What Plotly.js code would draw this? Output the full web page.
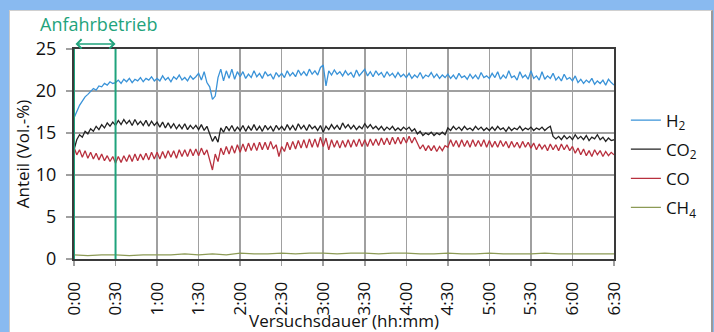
<!DOCTYPE html>
<html>
<head>
<meta charset="utf-8">
<script src="https://cdn.plot.ly/plotly-3.0.1.min.js"></script>
<style>
  html, body { margin: 0; padding: 0; background: #89baf0; width: 714px; height: 332px; overflow: hidden; }
  #panel { position: absolute; left: 9px; top: 10px; width: 701px; height: 322px; background: #ffffff; border-right: 2px solid #9a9a9a; border-top: 1px solid #d0d0d0; border-left: 1px solid #c8c8c8; }
  #chart { position: absolute; left: 0; top: 0; width: 714px; height: 332px; }
</style>
</head>
<body>
<div id="panel"></div>
<div id="chart"></div>
<script>
// Sampling step of the measured series (minutes)
const STEP_MIN = 2;
const STEP_CH4 = 10;

// Tick labels (hh:mm) every 30 minutes
const tickMinutes = [0, 30, 60, 90, 120, 150, 180, 210, 240, 270, 300, 330, 360, 390];
const tickLabels = ["0:00","0:30","1:00","1:30","2:00","2:30","3:00","3:30","4:00","4:30","5:00","5:30","6:00","6:30"];

const seriesNames = ["H<sub>2</sub>", "CO<sub>2</sub>", "CO", "CH<sub>4</sub>"];

// H2 (Vol.-%), every 2 min from 0:00 to 6:30
const h2 = [
  16.8, 17.6, 18.3, 18.8, 19.3, 19.6, 19.9, 20.3, 20.1, 20.6, 20.5, 20.9, 20.7, 21.1, 20.9,
  21.0, 21.3, 20.9, 21.4, 21.1, 21.5, 21.0, 21.4, 21.2, 21.6, 21.1, 21.5, 21.3, 21.7, 21.2,
  21.5, 21.2, 21.8, 21.3, 21.6, 21.1, 21.7, 21.4, 21.9, 21.3, 21.6, 21.2, 21.8, 21.4, 21.7,
  22.1, 21.3, 22.3, 21.0, 20.5, 19.0, 19.4, 21.6, 22.6, 21.2, 22.4, 21.5, 22.6, 21.4, 22.3,
  21.7, 22.3, 21.5, 22.0, 21.6, 22.4, 21.7, 22.1, 21.5, 22.3, 21.8, 22.0, 21.4, 22.2, 21.7,
  22.1, 21.6, 22.4, 21.8, 22.2, 21.7, 22.5, 21.9, 22.3, 21.8, 22.6, 22.0, 22.4, 21.9, 22.8,
  23.1, 20.6, 22.4, 21.9, 22.5, 22.0, 22.3, 21.8, 22.4, 21.9, 22.2, 21.6, 22.5, 21.8, 22.2,
  22.6, 21.8, 22.3, 21.7, 22.4, 21.9, 22.2, 21.6, 22.3, 21.8, 22.1, 21.6, 22.2, 21.7, 22.0,
  21.6, 22.1, 21.5, 21.9, 21.6, 22.2, 21.5, 21.9, 21.7, 22.2, 21.6, 22.0, 21.5, 21.9, 21.6,
  22.0, 21.5, 21.9, 21.4, 22.1, 21.6, 21.8, 21.4, 22.0, 21.5, 21.9, 21.4, 22.2, 21.6, 21.8,
  21.5, 22.1, 21.6, 22.3, 21.4, 21.9, 21.5, 22.4, 21.6, 21.8, 21.3, 22.3, 21.6, 21.9, 21.4,
  22.4, 21.5, 21.8, 21.3, 22.3, 21.4, 21.8, 21.5, 22.1, 21.3, 21.7, 21.2, 22.0, 21.4, 21.6,
  21.2, 21.8, 21.0, 21.4, 20.9, 21.3, 21.0, 21.5, 20.8, 21.2, 20.9, 21.3, 20.7, 21.4, 21.0, 20.7
];

// CO2 (Vol.-%)
const co2 = [
  13.0, 14.2, 14.8, 14.5, 15.2, 14.9, 15.5, 15.2, 15.8, 15.4, 16.0, 15.6, 16.2, 15.8, 16.3,
  15.9, 16.5, 16.0, 16.6, 16.1, 16.5, 15.9, 16.6, 16.0, 16.4, 15.9, 16.5, 15.8, 16.4, 15.9,
  16.3, 15.7, 16.3, 15.6, 16.2, 15.6, 16.1, 15.5, 16.0, 15.5, 16.1, 15.4, 15.9, 15.5, 15.9,
  15.4, 16.0, 15.3, 15.8, 15.0, 14.0, 14.6, 13.9, 15.6, 15.1, 15.8, 15.3, 15.9, 15.2, 15.7,
  15.3, 15.9, 15.2, 15.8, 15.3, 16.0, 15.3, 15.8, 15.2, 15.9, 15.4, 15.8, 15.2, 15.9, 15.4,
  15.8, 15.3, 16.0, 15.4, 15.9, 15.3, 16.1, 15.5, 15.9, 15.3, 16.0, 15.5, 15.8, 15.3, 15.9,
  15.1, 15.8, 15.4, 16.0, 15.5, 15.9, 15.4, 16.2, 15.6, 16.0, 15.5, 15.9, 15.4, 15.8, 15.5,
  16.1, 15.6, 16.0, 15.5, 15.8, 15.4, 15.8, 15.3, 15.7, 15.4, 15.8, 15.3, 15.6, 15.3, 15.7,
  15.4, 15.7, 15.2, 15.5, 14.9, 15.2, 14.7, 15.0, 14.8, 15.1, 14.7, 15.0, 14.8, 15.1, 14.8,
  15.6, 15.3, 15.8, 15.4, 15.7, 15.3, 15.8, 15.4, 15.6, 15.3, 15.8, 15.4, 15.7, 15.3, 15.6,
  15.3, 15.7, 15.3, 15.8, 15.4, 15.6, 15.2, 15.7, 15.3, 15.6, 15.4, 15.8, 15.3, 15.6, 15.4,
  15.7, 15.3, 15.6, 15.4, 15.7, 15.3, 15.6, 15.8, 14.6, 14.3, 14.6, 14.2, 14.7, 14.3, 14.6,
  14.2, 14.8, 14.3, 14.6, 14.2, 14.7, 14.1, 14.5, 14.3, 14.8, 14.2, 14.5, 14.0, 14.4, 14.1, 14.2
];

// CO (Vol.-%)
const co = [
  13.3, 12.4, 13.0, 12.1, 12.9, 12.0, 12.7, 11.9, 12.6, 11.8, 12.5, 11.7, 12.3, 11.6, 12.2,
  11.4, 12.2, 11.5, 12.3, 11.6, 12.4, 11.6, 12.5, 11.7, 12.5, 11.8, 12.6, 11.8, 12.7, 11.9,
  12.7, 11.9, 12.8, 12.0, 12.9, 12.1, 12.9, 12.0, 13.0, 12.2, 13.0, 12.2, 13.1, 12.3, 13.1,
  12.3, 13.2, 12.4, 13.0, 11.8, 10.6, 12.5, 11.6, 13.2, 12.4, 13.4, 12.5, 13.5, 12.6, 13.6,
  12.7, 13.7, 12.8, 13.8, 12.9, 13.8, 12.9, 13.9, 13.0, 13.9, 13.0, 14.0, 13.1, 13.6, 12.2,
  13.4, 12.8, 13.9, 13.0, 14.0, 13.1, 14.1, 13.2, 14.2, 13.2, 14.3, 13.3, 14.3, 13.3, 14.5,
  13.4, 14.4, 13.0, 14.2, 13.3, 14.1, 13.2, 14.1, 13.3, 14.2, 13.3, 14.2, 13.4, 14.3, 13.4,
  14.2, 13.4, 14.3, 13.5, 14.3, 13.5, 14.4, 13.6, 14.4, 13.6, 14.5, 13.7, 14.5, 13.7, 14.5,
  13.8, 14.6, 13.8, 14.5, 13.7, 13.1, 13.6, 12.9, 13.5, 12.9, 13.5, 12.8, 13.4, 12.9, 13.5,
  13.3, 14.2, 13.4, 14.1, 13.3, 14.2, 13.4, 14.1, 13.3, 14.2, 13.4, 14.1, 13.4, 14.2, 13.3,
  14.1, 13.3, 14.0, 13.3, 14.1, 13.4, 14.0, 13.2, 14.0, 13.3, 13.9, 13.2, 14.0, 13.3, 13.9,
  13.2, 13.8, 13.0, 13.7, 13.1, 13.6, 12.9, 13.7, 13.0, 13.6, 12.9, 13.7, 13.0, 13.6, 12.9,
  13.4, 12.6, 13.2, 12.4, 13.1, 12.3, 12.9, 12.2, 13.0, 12.4, 12.9, 12.2, 12.8, 12.3, 12.7, 12.4
];

// CH4 (Vol.-%), every 10 min
const ch4 = [
  0.5, 0.4, 0.5, 0.5, 0.4, 0.5, 0.5, 0.5, 0.6, 0.5, 0.6, 0.5, 0.7, 0.6, 0.6, 0.7, 0.6, 0.7, 0.7, 0.6,
  0.7, 0.7, 0.6, 0.7, 0.7, 0.6, 0.6, 0.7, 0.6, 0.6, 0.7, 0.6, 0.6, 0.6, 0.7, 0.6, 0.6, 0.6, 0.6, 0.6
];

// Start-up phase (minutes)
const startupPhase = [0, 30];
const startupLabel = "Anfahrbetrieb";

const xTitle = "Versuchsdauer (hh:mm)";
const yTitle = "Anteil (Vol.-%)";

const colors = ["#3a93d8", "#222222", "#b8303e", "#8c9a55"];
const green = "#1fa37c";

const tMain = h2.map((_, i) => i * STEP_MIN);
const tCh4 = ch4.map((_, i) => i * STEP_CH4);

const ys = [h2, co2, co, ch4];
const xs = [tMain, tMain, tMain, tCh4];

const traces = ys.map((y, k) => ({
  x: xs[k], y: y, type: "scatter", mode: "lines",
  name: seriesNames[k], legendgroup: "g" + k,
  line: { color: colors[k], width: 1.3 }
}));

const font = "'Open Sans', 'Noto Sans', sans-serif";

const layout = {
  width: 714, height: 332,
  paper_bgcolor: "rgba(0,0,0,0)",
  plot_bgcolor: "rgba(0,0,0,0)",
  margin: { l: 74, r: 100, t: 49, b: 73 },
  font: { family: font, size: 18, color: "#111" },
  showlegend: true,
  legend: {
    x: 1.022, xanchor: "left", y: 0.745, yanchor: "top",
    bgcolor: "rgba(0,0,0,0)", tracegroupgap: 4,
    font: { family: font, size: 17, color: "#111" }
  },
  xaxis: {
    range: [0, 390], tickmode: "array", tickvals: tickMinutes, ticktext: tickLabels,
    tickangle: -90, showgrid: true, gridcolor: "#a0a0a0", gridwidth: 1.5,
    ticks: "outside", ticklen: 5, tickcolor: "#a0a0a0", tickwidth: 1.5,
    ticklabelstandoff: 9,
    tickfont: { family: font, size: 17, color: "#111" },
    showline: true, linecolor: "#3a3a3a", linewidth: 2, mirror: true, zeroline: false,
    title: { text: xTitle, font: { family: font, size: 17, color: "#111" }, standoff: 4 }
  },
  yaxis: {
    range: [0, 25], tickvals: [0, 5, 10, 15, 20, 25],
    showgrid: true, gridcolor: "#a0a0a0", gridwidth: 1.5,
    ticks: "outside", ticklen: 6, tickcolor: "#a0a0a0", tickwidth: 1.5,
    ticklabelstandoff: 6,
    tickfont: { family: font, size: 18, color: "#111" },
    showline: true, linecolor: "#3a3a3a", linewidth: 2, mirror: true, zeroline: false,
    title: { text: yTitle, font: { family: font, size: 17, color: "#111" }, standoff: 2 }
  },
  shapes: startupPhase.map(v => ({
    type: "line", xref: "x", yref: "y", x0: v, x1: v, y0: 0, y1: 25,
    line: { color: green, width: 2 }, layer: "above"
  })),
  annotations: [
    {
      xref: "x", yref: "paper", x: startupPhase[1], y: 1.024,
      axref: "x", ayref: "pixel", ax: startupPhase[0], ay: 0,
      text: "", showarrow: true, arrowside: "end+start",
      arrowhead: 4, startarrowhead: 4, arrowsize: 1.2, startarrowsize: 1.2,
      arrowwidth: 1.5, arrowcolor: green, standoff: 0, startstandoff: 0
    },
    {
      xref: "paper", yref: "paper", x: -0.066, y: 1.118, xanchor: "left", yanchor: "middle",
      text: startupLabel, showarrow: false,
      font: { family: font, size: 18, color: green }
    }
  ]
};

Plotly.newPlot("chart", traces, layout, { displayModeBar: false, staticPlot: true });
</script>
</body>
</html>
